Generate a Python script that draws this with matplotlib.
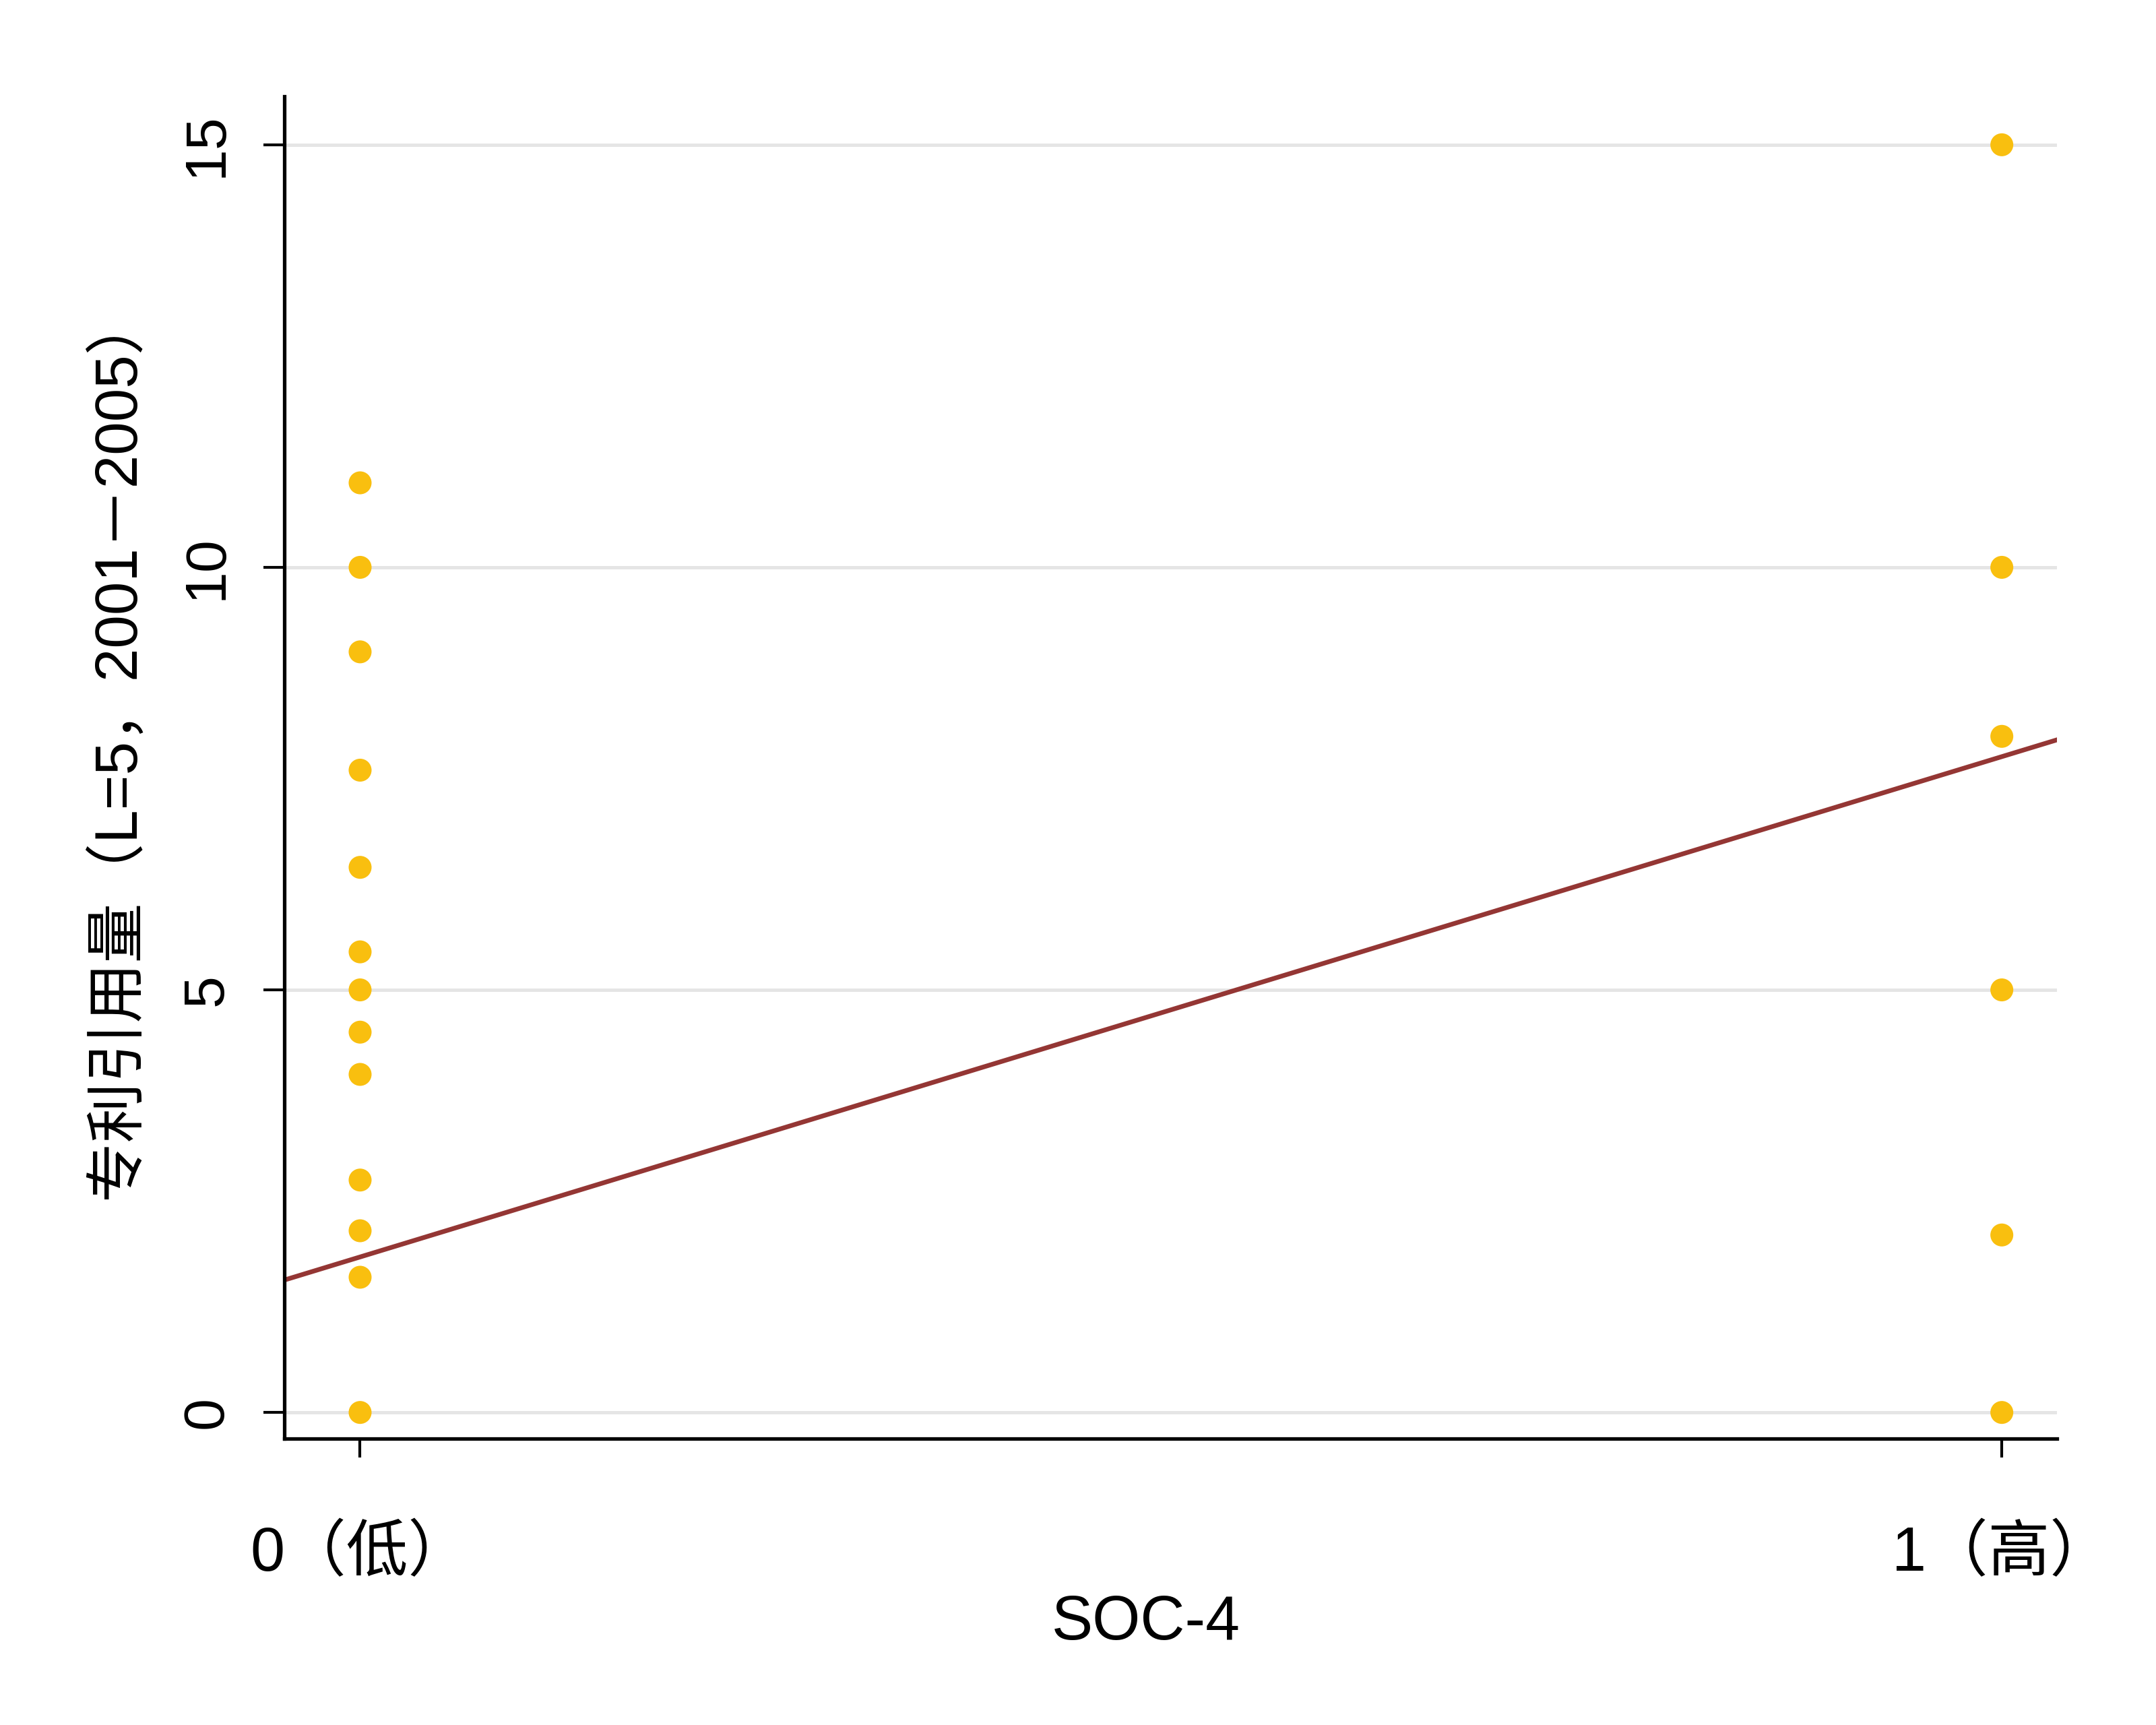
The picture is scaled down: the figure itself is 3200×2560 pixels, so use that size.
import matplotlib
matplotlib.use("Agg")
import matplotlib.pyplot as plt
import numpy as np

plt.rcParams['font.family'] = ['Liberation Sans', 'Noto Sans CJK SC', 'DejaVu Sans']

# data
low_x = [0] * 13
low_y = [11, 10, 9, 7.6, 6.45, 5.45, 5, 4.5, 4, 2.75, 2.15, 1.6, 0]
high_x = [1] * 6
high_y = [15, 10, 8, 5, 2.1, 0]
fit_intercept = 1.84
fit_slope = 5.92
x_ticks = [0, 1]
x_ticklabels = ['0（低）', '1（高）']
y_ticks = [0, 5, 10, 15]
y_ticklabels = ['0', '5', '10', '15']

fig = plt.figure(figsize=(16, 12.8), dpi=200)
ax = fig.add_axes([0.132, 0.166, 0.822, 0.778])

xlim = (-0.046, 1.0335)
ylim = (-0.31, 15.57)
ax.set_xlim(*xlim)
ax.set_ylim(*ylim)

ax.set_yticks(y_ticks)
for yv in y_ticks:
    ax.axhline(yv, color='#e5e5e5', lw=1.8, zorder=0)

gold = '#F9BF0F'
ax.scatter(low_x, low_y, s=150, color=gold, edgecolors='none', zorder=3)
ax.scatter(high_x, high_y, s=150, color=gold, edgecolors='none', zorder=3)

xs = np.array(xlim)
ax.plot(xs, fit_intercept + fit_slope * xs, color='#943634', lw=2.5, zorder=2)

for s in ['top', 'right']:
    ax.spines[s].set_visible(False)
for s in ['left', 'bottom']:
    ax.spines[s].set_linewidth(1.9)

ax.set_yticklabels(y_ticklabels, rotation=90, va='center', fontsize=31)
ax.set_xticks(x_ticks)
ax.set_xticklabels(x_ticklabels, fontsize=33)
ax.tick_params(axis='y', length=11, width=1.5, pad=16, direction='out')
ax.tick_params(axis='x', length=10, width=1.5, pad=36, direction='out')

ax.set_xlabel('SOC-4', fontsize=33)
ax.xaxis.set_label_coords(0.486, -0.116)
ax.set_ylabel('专利引用量（L=5，2001－2005）', fontsize=32)
ax.yaxis.set_label_coords(-0.078, 0.517)

fig.savefig('out.png', dpi=200, facecolor='white')
